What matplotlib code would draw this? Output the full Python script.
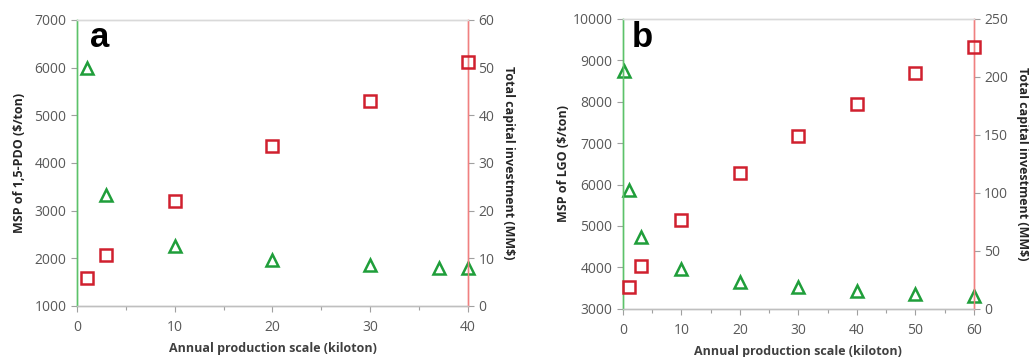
import matplotlib

matplotlib.use("Agg")
import matplotlib.pyplot as plt
from matplotlib.ticker import MultipleLocator

plt.rcParams["font.family"] = ["Open Sans", "DejaVu Sans"]

# panel a: 1,5-PDO
a_msp_x = [1, 3, 10, 20, 30, 37, 40]
a_msp = [6000, 3330, 2250, 1960, 1850, 1800, 1790]
a_tci_x = [1, 3, 10, 20, 30, 40]
a_tci = [5.9, 10.7, 22.1, 33.6, 43.1, 51.2]

# panel b: LGO
b_msp_x = [0.2, 1, 3, 10, 20, 30, 40, 50, 60]
b_msp = [8740, 5860, 4740, 3965, 3650, 3530, 3440, 3360, 3305]
b_tci_x = [1, 3, 10, 20, 30, 40, 50, 60]
b_tci = [19, 37, 77, 117, 149, 177, 203, 226]

GREEN = "#1f9e3a"
RED = "#d0202e"
TICK = "#595959"


def panel(fig, rect, letter, letter_xy, mx, my, tx, ty, xlim, ylim, y2lim,
          ystep, y2step, ylabel, ylabelpad):
    ax = fig.add_axes(rect)
    ax2 = ax.twinx()
    ax.plot(mx, my, linestyle="none", marker="^", ms=9, mfc="none",
            mec=GREEN, mew=1.8, clip_on=False, zorder=3)
    ax2.plot(tx, ty, linestyle="none", marker="s", ms=8.5, mfc="none",
             mec=RED, mew=1.8, clip_on=False, zorder=3)
    ax.set_xlim(*xlim)
    ax.set_ylim(*ylim)
    ax2.set_ylim(*y2lim)
    ax.xaxis.set_major_locator(MultipleLocator(10))
    ax.xaxis.set_minor_locator(MultipleLocator(5))
    ax.yaxis.set_major_locator(MultipleLocator(ystep))
    ax2.yaxis.set_major_locator(MultipleLocator(y2step))

    for a in (ax, ax2):
        a.tick_params(axis="both", which="both", colors="#a0a0a0",
                      labelcolor=TICK, labelsize=10, length=4, width=0.8)
        for s in a.spines.values():
            s.set_linewidth(1.0)
        a.spines["top"].set_color("#d9d9d9")
        a.spines["bottom"].set_color("#bfbfbf")
        a.spines["left"].set_color("#5cc26a")
        a.spines["right"].set_color("#f08080")
    ax.tick_params(axis="x", which="minor", length=3)
    ax.tick_params(axis="x", pad=6)

    ax.set_xlabel("Annual production scale (kiloton)", fontsize=9,
                  fontweight="bold", color="#404040", labelpad=5)
    ax.set_ylabel(ylabel, fontsize=9, fontweight="bold", color="#262626",
                  labelpad=ylabelpad)
    ax2.set_ylabel("Total capital investment (MM$)", fontsize=9,
                   fontweight="bold", color="#262626", rotation=270,
                   labelpad=15)
    ax.text(letter_xy[0], letter_xy[1], letter, transform=ax.transAxes,
            fontsize=25, fontweight="bold", ha="left", va="baseline",
            color="black", family="Liberation Sans")
    return ax, ax2


fig = plt.figure(figsize=(10.29, 3.57), dpi=100)

panel(fig, [0.0748, 0.143, 0.380, 0.801], "a", (0.034, 0.906),
      a_msp_x, a_msp, a_tci_x, a_tci,
      (0, 40), (1000, 7000), (0, 60), 1000, 10, "MSP of 1,5-PDO ($/ton)", 6)
panel(fig, [0.6054, 0.135, 0.341, 0.812], "b", (0.026, 0.903),
      b_msp_x, b_msp, b_tci_x, b_tci,
      (0, 60), (3000, 10000), (0, 250), 1000, 50, "MSP of LGO ($/ton)", 1.5)

fig.savefig("out.png", dpi=100)
plt.close(fig)
